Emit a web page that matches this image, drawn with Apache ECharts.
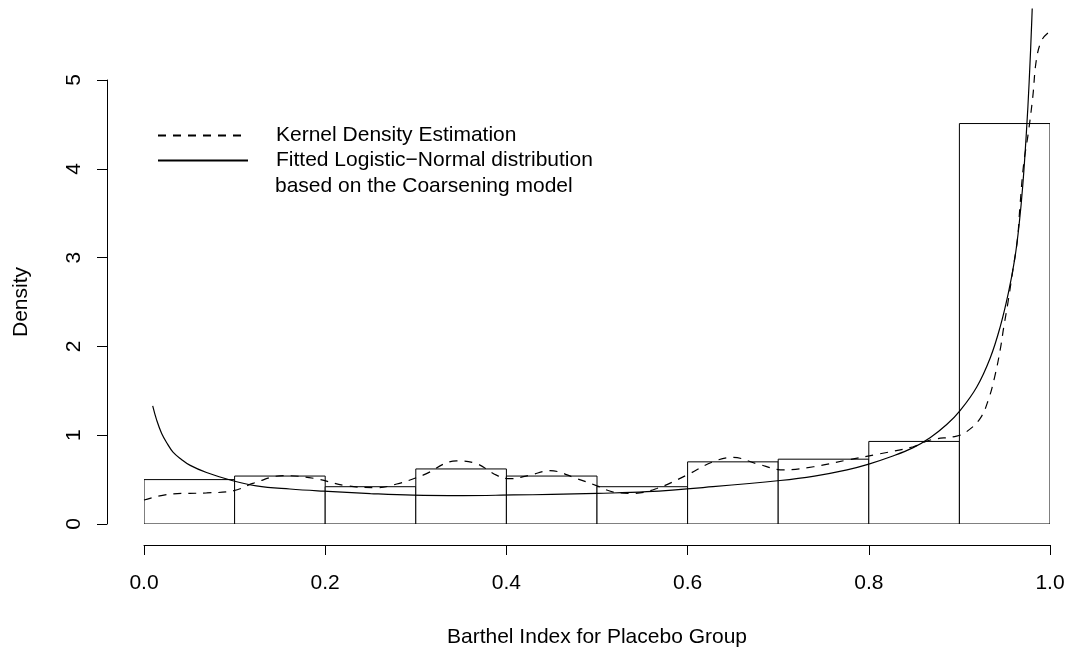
<!DOCTYPE html>
<html>
<head>
<meta charset="utf-8">
<title>Barthel Index - Placebo</title>
<script src="https://cdn.jsdelivr.net/npm/echarts@6/dist/echarts.min.js"></script>
<style>
    html, body { margin: 0; padding: 0; background: #fff; }
    #main { width: 1067px; height: 647px; }
</style>
</head>
<body>
<div id="main"></div>
<script>
/* histogram: bins of width 0.1 */
var binStarts = [0.0, 0.1, 0.2, 0.3, 0.4, 0.5, 0.6, 0.7, 0.8, 0.9];
var binWidth = 0.1;
var histDensity = [0.50, 0.54, 0.42, 0.62, 0.54, 0.42, 0.70, 0.73, 0.93, 4.51];

/* kernel density estimation (dashed) */
var kdeX = [0.0, 0.032, 0.069, 0.099, 0.121, 0.154, 0.187, 0.224, 0.257, 0.279, 0.308,
    0.345, 0.367, 0.389, 0.404, 0.426, 0.448, 0.478, 0.50, 0.518, 0.54, 0.566, 0.599,
    0.628, 0.65, 0.676, 0.706, 0.739, 0.776, 0.812, 0.849, 0.868, 0.897, 0.908, 0.923,
    0.932, 0.939, 0.945, 0.949, 0.954, 0.959, 0.964, 0.967, 0.971, 0.976, 0.981, 0.985,
    0.991, 0.999];
var kdeY = [0.27, 0.34, 0.35, 0.375, 0.46, 0.545, 0.515, 0.43, 0.41, 0.45, 0.55,
    0.71, 0.68, 0.55, 0.51, 0.55, 0.60, 0.51, 0.43, 0.36, 0.345, 0.40, 0.55,
    0.70, 0.75, 0.68, 0.61, 0.645, 0.72, 0.79, 0.87, 0.946, 0.99, 1.04, 1.19,
    1.40, 1.66, 1.96, 2.22, 2.52, 2.86, 3.20, 3.60, 4.06, 4.40, 4.81, 5.23,
    5.45, 5.54];

/* fitted logistic-normal density (solid) */
var fitX = [0.0096, 0.014, 0.0195, 0.026, 0.032, 0.041, 0.051, 0.069, 0.097, 0.124,
    0.161, 0.198, 0.25, 0.297, 0.352, 0.408, 0.45, 0.50, 0.555, 0.628, 0.702, 0.74,
    0.776, 0.80, 0.825, 0.849, 0.868, 0.886, 0.901, 0.919, 0.934, 0.945, 0.954, 0.961,
    0.966, 0.970, 0.974, 0.977, 0.980, 0.982];
var fitY = [1.33, 1.17, 1.02, 0.90, 0.81, 0.73, 0.66, 0.58, 0.49, 0.43,
    0.394, 0.37, 0.343, 0.325, 0.32, 0.327, 0.333, 0.345, 0.364, 0.42, 0.49, 0.54,
    0.61, 0.675, 0.76, 0.86, 0.975, 1.12, 1.28, 1.54, 1.87, 2.22, 2.60, 2.98,
    3.38, 3.82, 4.42, 4.98, 5.70, 6.30];

var xTicks = [0, 1, 0.2];   // min, max, step
var yTicks = [0, 5, 1];

var legendNames = ['Kernel Density Estimation', 'Fitted Logistic\u2212Normal distribution'];
var legendExtra = 'based on the Coarsening model';

(function () {
    'use strict';
    var FONT = 'Liberation Sans, Arial, Helvetica, sans-serif';
    var chart = echarts.init(document.getElementById('main'));

    function zip(xs, ys) {
        return xs.map(function (x, i) { return [x, ys[i]]; });
    }

    var bars = binStarts.map(function (b, i) {
        return [b, b + binWidth, histDensity[i]];
    });

    chart.setOption({
        animation: false,
        backgroundColor: '#fff',
        textStyle: { fontFamily: FONT },
        grid: [
            /* grid 0: only shows the R-style detached axes */
            { left: 144, right: 17, top: 80, bottom: 123, outerBoundsMode: 'none', containLabel: false },
            /* grid 1: the plot region (y up to 5.8) */
            { left: 144, right: 17, top: 9, bottom: 123, outerBoundsMode: 'none', containLabel: false }
        ],
        xAxis: [{
            type: 'value', gridIndex: 0,
            min: xTicks[0], max: xTicks[1], interval: xTicks[2],
            offset: 21,
            axisLine: { show: true, onZero: false, lineStyle: { color: '#000', width: 1 } },
            axisTick: { show: true, length: 10, lineStyle: { color: '#000' } },
            splitLine: { show: false },
            axisLabel: {
                color: '#000', fontSize: 21, fontFamily: FONT, margin: 28,
                formatter: function (v) { return v.toFixed(1); }
            },
            name: 'Barthel Index for Placebo Group',
            nameLocation: 'middle', nameGap: 82,
            nameTextStyle: { color: '#000', fontSize: 21, fontFamily: FONT }
        }, {
            type: 'value', gridIndex: 1, min: 0, max: 1, show: false
        }],
        yAxis: [{
            type: 'value', gridIndex: 0,
            min: yTicks[0], max: yTicks[1], interval: yTicks[2],
            offset: 37,
            axisLine: { show: true, onZero: false, lineStyle: { color: '#000', width: 1 } },
            axisTick: { show: true, length: 10, lineStyle: { color: '#000' } },
            splitLine: { show: false },
            axisLabel: { color: '#000', fontSize: 21, fontFamily: FONT, rotate: 90, margin: 22 },
            name: 'Density',
            nameLocation: 'middle', nameRotate: 90, nameGap: 75,
            nameTextStyle: { color: '#000', fontSize: 21, fontFamily: FONT }
        }, {
            type: 'value', gridIndex: 1, min: 0, max: 5.8, show: false
        }],
        legend: {
            orient: 'vertical',
            left: 157, top: 125,
            padding: 0,
            itemWidth: 90, itemHeight: 14, itemGap: 4,
            selectedMode: false,
            data: legendNames,
            itemStyle: { color: 'rgba(0,0,0,0)', borderWidth: 0, opacity: 0 },
            textStyle: {
                color: '#000', fontSize: 21, fontFamily: FONT,
                lineHeight: 21, padding: [0, 0, 0, 23]
            }
        },
        graphic: [{
            type: 'text', x: 275, y: 186,
            style: {
                text: legendExtra, fill: '#000',
                font: '21px ' + FONT, verticalAlign: 'middle'
            }
        }],
        series: [{
            type: 'custom',
            xAxisIndex: 1, yAxisIndex: 1,
            data: bars,
            clip: true,
            renderItem: function (params, api) {
                var p0 = api.coord([api.value(0), 0]);
                var p1 = api.coord([api.value(1), api.value(2)]);
                return {
                    type: 'rect',
                    shape: { x: p0[0], y: p1[1], width: p1[0] - p0[0], height: p0[1] - p1[1] },
                    style: { fill: '#fff', stroke: '#000', lineWidth: 1 }
                };
            }
        }, {
            name: legendNames[0],
            type: 'line',
            xAxisIndex: 1, yAxisIndex: 1,
            data: zip(kdeX, kdeY),
            showSymbol: false, symbol: 'none',
            smooth: 0.4,
            clip: true,
            lineStyle: { color: '#000', width: 1.2, type: [8, 7] },
            itemStyle: { color: '#000' },
            z: 3
        }, {
            name: legendNames[1],
            type: 'line',
            xAxisIndex: 1, yAxisIndex: 1,
            data: zip(fitX, fitY),
            showSymbol: false, symbol: 'none',
            smooth: 0.4,
            clip: true,
            lineStyle: { color: '#000', width: 1.2 },
            itemStyle: { color: '#000' },
            z: 3
        }]
    });
})();
</script>
</body>
</html>
